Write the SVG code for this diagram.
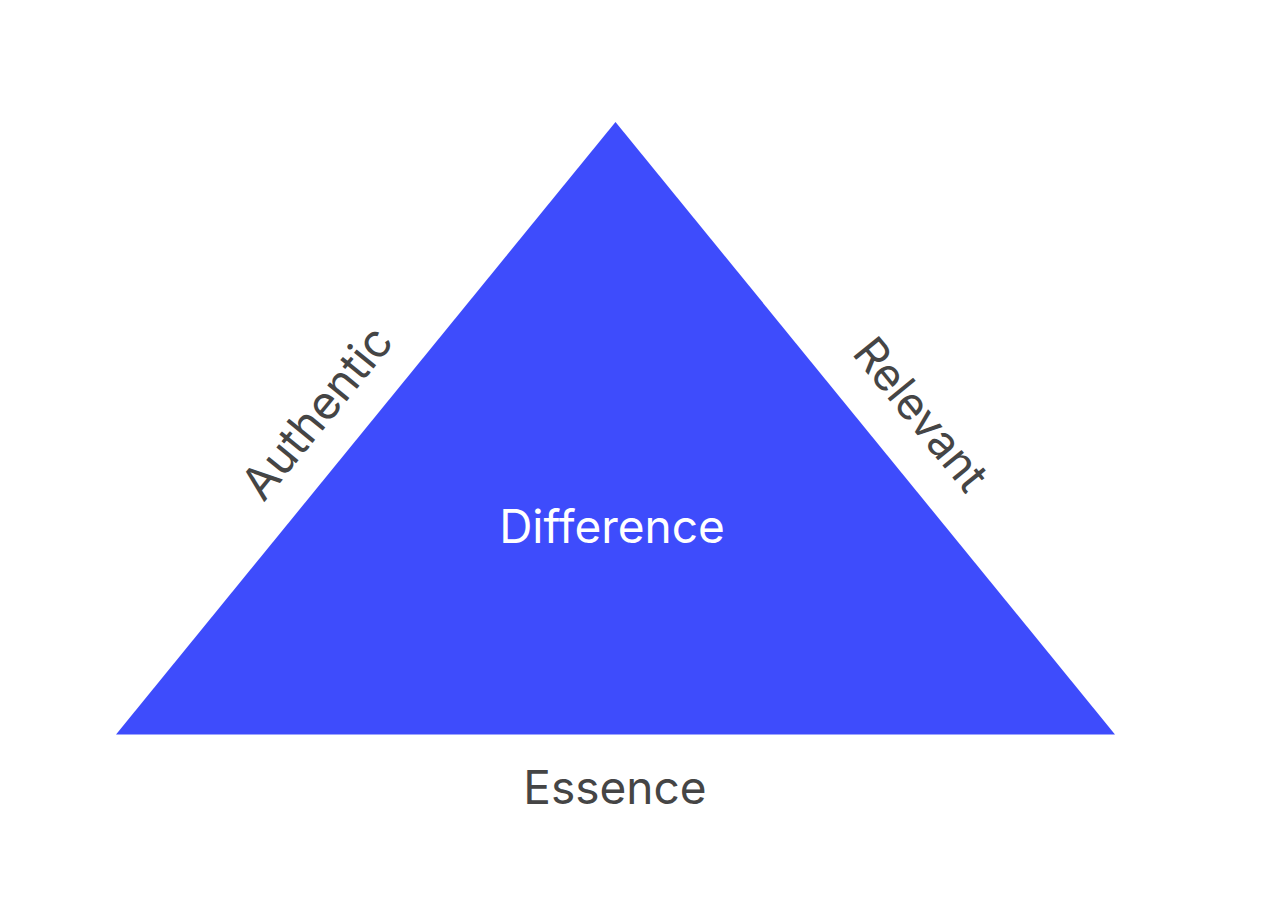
<svg xmlns="http://www.w3.org/2000/svg" width="1272" height="916" viewBox="0 0 1272 916">
<style>
.lbl{font-family:Inter,"Noto Sans","Liberation Sans",sans-serif;fill:#454545;text-anchor:middle}
.inner{font-family:Inter,"Noto Sans","Liberation Sans",sans-serif;fill:#ffffff;text-anchor:middle}
</style>
<rect width="1272" height="916" fill="#ffffff"/>
<g id="triangle">
<polygon points="615.5,122 116,734.5 1115,734.5" fill="#3E4CFC"/>
<text class="inner" x="612" y="543" font-size="46">Difference</text>
</g>
<g id="authentic">
<text class="lbl" font-size="46" transform="translate(316,412) rotate(-50.8)" y="17">Authentic</text>
</g>
<g id="relevant">
<text class="lbl" font-size="45" transform="translate(921,414) rotate(50.8)" y="16">Relevant</text>
</g>
<g id="essence">
<text class="lbl" x="615" y="804" font-size="46">Essence</text>
</g>
<g id="connectors"></g>
</svg>
